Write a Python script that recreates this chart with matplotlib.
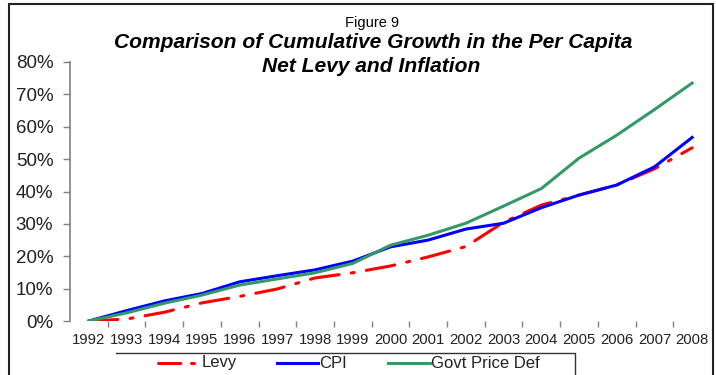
import matplotlib
matplotlib.use("Agg")
import matplotlib.pyplot as plt
from matplotlib.lines import Line2D
from matplotlib.patches import Rectangle
import numpy as np

plt.rcParams['font.family'] = ['Liberation Sans', 'DejaVu Sans']

years = [str(y) for y in range(1992, 2009)]
levy = [0, 0.6, 2.7, 5.6, 7.6, 9.9, 13.3, 14.9, 17.0, 19.8, 23.0, 30.5, 35.8, 38.9, 42.0, 47.0, 53.5]
cpi = [0, 3.2, 6.2, 8.5, 12.1, 14.0, 15.8, 18.5, 22.9, 25.0, 28.4, 30.2, 35.0, 38.9, 42.0, 47.6, 56.7]
govt = [0, 2.5, 5.5, 8.0, 11.1, 13.0, 14.9, 17.8, 23.4, 26.5, 30.2, 35.5, 40.9, 50.3, 57.4, 65.3, 73.5]
y_ticks = [0, 10, 20, 30, 40, 50, 60, 70, 80]
series_names = ['Levy', 'CPI', 'Govt Price Def']
series_colors = ['#FF0000', '#0000FF', '#339966']

W, H = 716, 375
fig = plt.figure(figsize=(W / 100, H / 100), dpi=100)
ax = fig.add_axes([70 / W, 1 - 321 / H, (711 - 70) / W, (321 - 62) / H])

LEVY_DASH = (9.5, 4, 1, 4)
x = np.arange(len(years))
ax.plot(x, levy, color=series_colors[0], lw=2.2, dashes=LEVY_DASH,
        dash_capstyle='round')
ax.plot(x, cpi, color=series_colors[1], lw=2.2)
ax.plot(x, govt, color=series_colors[2], lw=2.2)

ax.set_xlim(-0.5, len(years) - 0.5)
ax.set_ylim(0, 80)
ax.set_yticks(y_ticks)
ax.set_yticklabels([f'{v}%' for v in y_ticks], fontsize=13.5, color='#222222')
ax.set_xticks(x)
ax.set_xticklabels(years, fontsize=10.7, color='#222222')
ax.set_xticks(x[:-1] + 0.5, minor=True)
ax.tick_params(axis='x', which='major', length=0, pad=9)
ax.tick_params(axis='x', which='minor', length=4, color='#808080', width=1, direction='out')
ax.tick_params(axis='y', which='major', length=5, color='#808080', width=1, pad=7)

for side in ['top', 'right', 'bottom']:
    ax.spines[side].set_visible(False)
ax.spines['left'].set_color('#808080')
ax.spines['left'].set_linewidth(1.2)


def fx(px):
    return px / W


def fy(py):
    return 1 - py / H


fig.text(fx(372), fy(23), 'Figure 9', ha='center', va='center', fontsize=10.5)
fig.text(fx(373.5), fy(43), 'Comparison of Cumulative Growth in the Per Capita',
         ha='center', va='center', fontsize=15.1, fontweight='bold', fontstyle='italic')
fig.text(fx(371), fy(66), 'Net Levy and Inflation',
         ha='center', va='center', fontsize=15.1, fontweight='bold', fontstyle='italic')

# legend box: top edge and right edge, running off the bottom of the figure
fig.add_artist(Line2D([fx(116), fx(575), fx(575)], [fy(353), fy(353), fy(395)],
                      transform=fig.transFigure, color='#333333', lw=1.0))
leg_y = fy(363)
handles = [(158, 194), (277, 318), (388, 430)]
text_x = [202, 319, 431]
for i, name in enumerate(series_names):
    x0, x1 = handles[i]
    kw = dict(dashes=(7.3, 3.5, 1, 4), dash_capstyle='round') if name == 'Levy' else {}
    fig.add_artist(Line2D([fx(x0), fx(x1)], [leg_y, leg_y], transform=fig.transFigure,
                          color=series_colors[i], lw=2.2, **kw))
    fig.text(fx(text_x[i]), leg_y, name, ha='left', va='center', fontsize=12,
             color='#222222')

# outer figure border
fig.add_artist(Rectangle((fx(9), -0.01), fx(713) - fx(9), fy(4) + 0.01,
                         transform=fig.transFigure, fill=False,
                         edgecolor='#222222', lw=1.5))

fig.savefig('out.png', dpi=100)
